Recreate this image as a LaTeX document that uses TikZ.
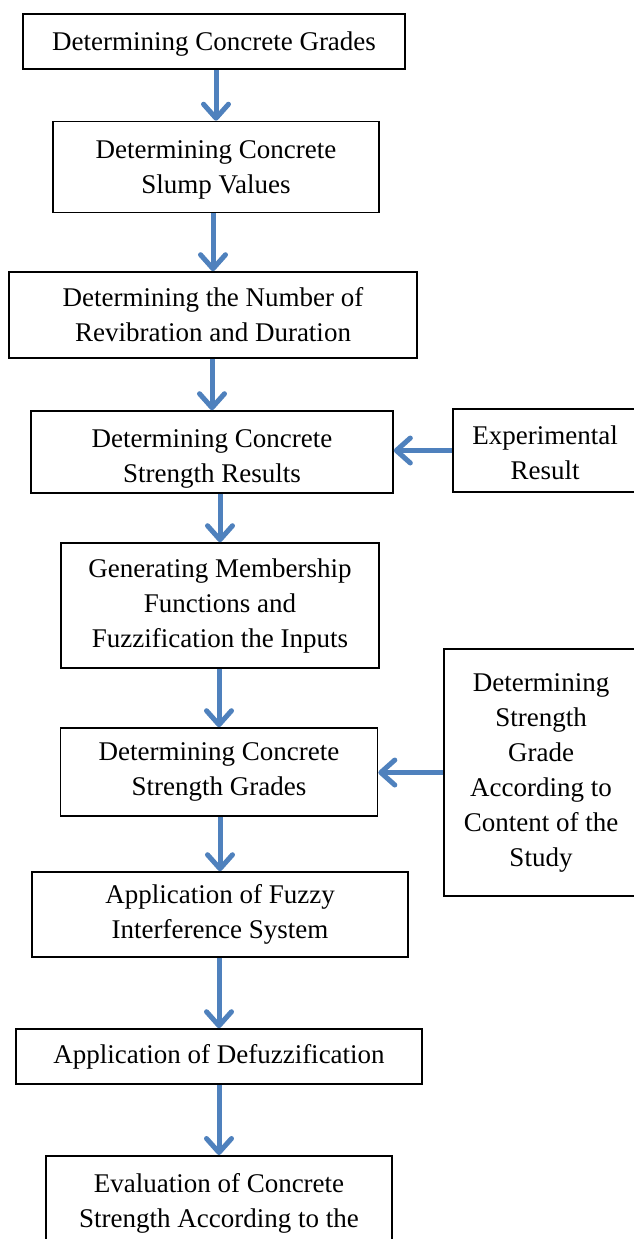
\documentclass[tikz,border=0pt]{standalone}
\usepackage{fontspec}
\setmainfont{Liberation Serif}
\usetikzlibrary{arrows.meta}
\definecolor{arrowblue}{RGB}{79,129,189}
\begin{document}
\begin{tikzpicture}[x=1pt,y=-1pt,
  box/.style={draw=black,line width=1.6pt,rectangle,align=center,inner sep=0pt,
    font=\fontsize{27}{35}\selectfont},
  flow/.style={draw=arrowblue,line width=5pt,
    -{Straight Barb[length=14pt,width=25pt,line cap=round,line join=round]}}]
\useasboundingbox (0,0) rectangle (633,1239);
\fill[white] (0,0) rectangle (633,1239);
\node[box,minimum width=382,minimum height=55] (b1) at (214,41.5) {\rule{0pt}{24pt}Determining Concrete Grades};
\node[box,minimum width=326,minimum height=91] (b2) at (216,167) {\rule{0pt}{23pt}Determining Concrete\\Slump Values};
\node[box,minimum width=408,minimum height=86] (b3) at (213,315) {Determining the Number of\\Revibration and Duration};
\node[box,minimum width=362,minimum height=82] (b4) at (212,452) {\rule{0pt}{31pt}Determining Concrete\\Strength Results};
\node[box,minimum width=184,minimum height=83] (exp) at (545,450.5) {\rule{0pt}{23pt}Experimental\\Result};
\node[box,minimum width=318,minimum height=125] (b5) at (220,605.5) {Generating Membership\\Functions and\\Fuzzification the Inputs};
\node[box,minimum width=317,minimum height=88] (b6) at (219,772) {Determining Concrete\\Strength Grades};
\node[box,minimum width=194,minimum height=247] (str) at (541,772.5) {Determining\\Strength\\Grade\\According to\\Content of the\\Study};
\node[box,minimum width=376,minimum height=85] (b7) at (220,914.5) {Application of Fuzzy\\Interference System};
\node[box,minimum width=406,minimum height=55] (b8) at (219,1056.5) {Application of Defuzzification};
\node[box,minimum width=346,minimum height=140,anchor=north] (b9) at (219,1155) {};
\node[align=center,inner sep=0pt,anchor=north,font=\fontsize{27}{35}\selectfont] (b9t) at ([yshift=-18]b9.north) {Evaluation of Concrete\\Strength According to the};
\draw[flow] (b1.south -| b2.north) -- (b2.north);
\draw[flow] (b2.south -| b3.north) -- (b3.north);
\draw[flow] (b3.south -| b4.north) -- (b4.north);
\draw[flow] (b4.south -| b5.north) -- (b5.north);
\draw[flow] (b5.south -| b6.north) -- (b6.north);
\draw[flow] (b6.south -| b7.north) -- (b7.north);
\draw[flow] (b7.south -| b8.north) -- (b8.north);
\draw[flow] (b8.south -| b9.north) -- (b9.north);
\draw[flow] (exp.west) -- (exp.west -| b4.east);
\draw[flow] (str.west) -- (str.west -| b6.east);
\end{tikzpicture}
\end{document}
